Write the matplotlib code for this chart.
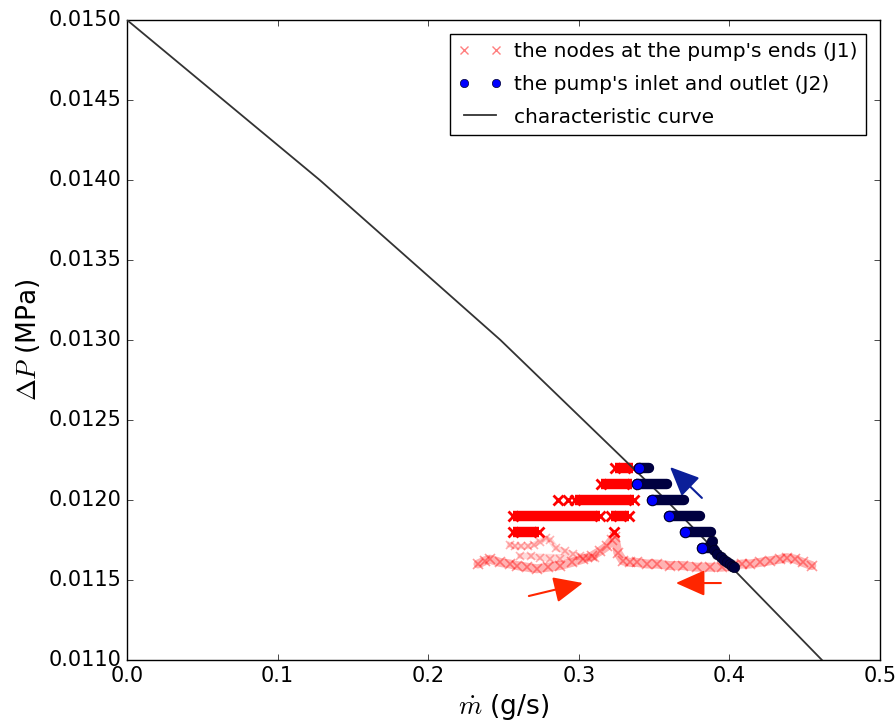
import matplotlib
matplotlib.use('Agg')
import matplotlib.pyplot as plt
import numpy as np

plt.style.use('classic')
plt.rcParams['figure.facecolor'] = 'white'

# characteristic curve of the pump
curve_m = [0.0, 0.128, 0.248, 0.358, 0.4615]
curve_dp = [0.0150, 0.0140, 0.0130, 0.0120, 0.0110]

# J1: quantized bands (dP level, m start, m end)
j1_band_dp = [0.0122, 0.0121, 0.0120, 0.0119, 0.0119, 0.0118]
j1_band_m0 = [0.3220, 0.3127, 0.2955, 0.2543, 0.3194, 0.2543]
j1_band_m1 = [0.3380, 0.3373, 0.3386, 0.3161, 0.3353, 0.2756]

# J1: isolated points
j1_pts_m = [0.2862, 0.2928, 0.3234]
j1_pts_dp = [0.0120, 0.0120, 0.0118]

# J1: noisy trace near 0.0116 MPa
j1_trace_m = [0.2331, 0.2377, 0.2410, 0.2477, 0.2543, 0.2590, 0.2656, 0.2722,
              0.2795, 0.2875, 0.2955, 0.3028, 0.3088, 0.3141, 0.3187, 0.3220,
              0.3240, 0.3260, 0.3293, 0.3340, 0.3386, 0.3453, 0.3519, 0.3606,
              0.3692, 0.3785, 0.3871, 0.3951, 0.4024, 0.4084, 0.4137, 0.4203,
              0.4270, 0.4336, 0.4382, 0.4436, 0.4489, 0.4548]
j1_trace_dp = [0.01160, 0.01162, 0.01163, 0.01161, 0.01160, 0.01159, 0.01158, 0.01157,
               0.01158, 0.01159, 0.01161, 0.01163, 0.01165, 0.01168, 0.01171, 0.01175,
               0.01177, 0.01167, 0.01162, 0.01161, 0.01161, 0.01160, 0.01160, 0.01159,
               0.01159, 0.01158, 0.01158, 0.01158, 0.01159, 0.01160, 0.01160, 0.01161,
               0.01162, 0.01163, 0.01164, 0.01163, 0.01161, 0.01159]

# J1: secondary loop
j1_loop_m = [0.2543, 0.2576, 0.2620, 0.2663, 0.2700, 0.2742, 0.2780, 0.2809, 0.2849,
             0.2908, 0.2960, 0.3008, 0.3060, 0.3108, 0.2610, 0.2680, 0.2742, 0.2810, 0.2875]
j1_loop_dp = [0.01172, 0.01171, 0.01171, 0.01171, 0.01172, 0.01174, 0.01176, 0.01175, 0.01170,
              0.01168, 0.01166, 0.01165, 0.01164, 0.01164, 0.01165, 0.01165, 0.01164, 0.01163,
              0.01163]

# J2: bands of the pump's inlet and outlet
j2_band_dp = [0.0122, 0.0121, 0.0120, 0.0119, 0.0118, 0.0117]
j2_band_m0 = [0.3400, 0.3386, 0.3486, 0.3599, 0.3705, 0.3818]
j2_band_m1 = [0.3466, 0.3586, 0.3699, 0.3805, 0.3878, 0.3890]

# J2: diagonal part down to the operating point
j2_diag_m = [0.3871, 0.3885, 0.3900, 0.3920, 0.3945, 0.3965, 0.3985, 0.4005, 0.4020, 0.4030]
j2_diag_dp = [0.011720, 0.011745, 0.011690, 0.011665, 0.011645, 0.011625, 0.011610,
              0.011597, 0.011585, 0.011580]

red = '#ff0000'
navy = '#000040'

fig = plt.figure(figsize=(8.96, 7.24), dpi=100)
ax = fig.add_axes([0.1417, 0.0884, 0.8403, 0.8840])

# characteristic curve
ax.plot(curve_m, curve_dp, color='#333333', lw=1.3, label='characteristic curve', zorder=4)

# J1
ax.plot(j1_trace_m, j1_trace_dp, color=red, lw=6.5, alpha=0.3, solid_capstyle='round', zorder=2)
ax.plot(j1_trace_m, j1_trace_dp, 'x', color=red, ms=6.5, mew=1.2, alpha=0.4, zorder=2)
ax.plot(j1_loop_m, j1_loop_dp, color=red, lw=4, alpha=0.15, zorder=2)
ax.plot(j1_loop_m, j1_loop_dp, 'x', color=red, ms=6, mew=1.2, alpha=0.3, zorder=2)
for dp, m0, m1 in zip(j1_band_dp, j1_band_m0, j1_band_m1):
    ax.plot([m0 + 0.002, m1 - 0.002], [dp, dp], color=red, lw=7.5, solid_capstyle='butt', zorder=3)
    ax.plot([m0 + 0.002, m1 - 0.002], [dp, dp], 'x', color=red, ms=7, mew=2, zorder=3)
ax.plot(j1_pts_m, j1_pts_dp, 'x', color=red, ms=7, mew=2, zorder=3)
ax.plot([], [], 'x', color=red, ms=6, mew=1, alpha=0.5,
        label="the nodes at the pump's ends (J1)")

# J2
for dp, m0, m1 in zip(j2_band_dp, j2_band_m0, j2_band_m1):
    ax.plot([m0, m1], [dp, dp], color=navy, lw=7.5, solid_capstyle='round', zorder=5)
ax.plot(j2_diag_m, j2_diag_dp, 'o', color=navy, ms=7.5, mec='#000020', zorder=5)
ax.plot(j2_band_m0, j2_band_dp, 'o', color='#0000ff', ms=7.5, mec='#000030', mew=0.8, zorder=6)
ax.plot([], [], 'o', color='#0000ff', ms=6, mec='#000030', mew=0.5,
        label="the pump's inlet and outlet (J2)")

# arrows
arrow_style = '-|>,head_length=0.9,head_width=0.4'
ax.annotate('', xy=(0.3606, 0.012206), xytext=(0.3818, 0.012013),
            arrowprops=dict(arrowstyle=arrow_style, color='#0b1f99', lw=1.5,
                            mutation_scale=20, shrinkA=0, shrinkB=0))
ax.annotate('', xy=(0.3028, 0.011481), xytext=(0.2669, 0.011400),
            arrowprops=dict(arrowstyle=arrow_style, color='#ff2600', lw=1.5,
                            mutation_scale=20, shrinkA=0, shrinkB=0))
ax.annotate('', xy=(0.3645, 0.011481), xytext=(0.3944, 0.011481),
            arrowprops=dict(arrowstyle=arrow_style, color='#ff2600', lw=1.5,
                            mutation_scale=20, shrinkA=0, shrinkB=0))

ax.set_xlim(0.0, 0.5)
ax.set_ylim(0.011, 0.015)
ax.set_xticks([0.0, 0.1, 0.2, 0.3, 0.4, 0.5])
ax.set_yticks([0.0110, 0.0115, 0.0120, 0.0125, 0.0130, 0.0135, 0.0140, 0.0145, 0.0150])
ax.set_yticklabels(['%.4f' % v for v in ax.get_yticks()])
ax.set_xticklabels(['%.1f' % v for v in ax.get_xticks()])
ax.tick_params(labelsize=15)
ax.set_xlabel(r'$\dot{m}$ (g/s)', fontsize=19)
ax.set_ylabel(r'$\Delta P$ (MPa)', fontsize=19)

handles, labels = ax.get_legend_handles_labels()
order = [labels.index("the nodes at the pump's ends (J1)"),
         labels.index("the pump's inlet and outlet (J2)"),
         labels.index('characteristic curve')]
ax.legend([handles[i] for i in order], [labels[i] for i in order],
          loc='upper right', fontsize=14.5, numpoints=2, frameon=True, fancybox=False,
          labelspacing=0.68, borderaxespad=0.7, handlelength=2.2, handletextpad=0.6)

plt.savefig('out.png', dpi=100)
